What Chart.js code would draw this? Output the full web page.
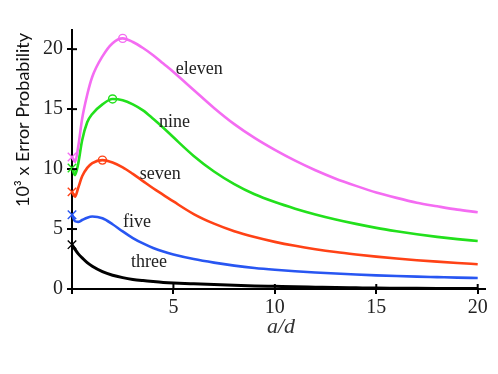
<!DOCTYPE html>
<html>
<head>
<meta charset="utf-8">
<script src="https://cdn.jsdelivr.net/npm/chart.js@4"></script>
<style>
  html, body { margin: 0; padding: 0; background: #fff; }
  canvas { display: block; }
</style>
</head>
<body>
<canvas id="chart" width="498" height="374"></canvas>
<script>
// a/d sample positions shared by every curve
const XS = [0, 0.15, 0.3, 0.5, 0.75, 1, 1.5, 2, 2.5, 3, 3.5, 4, 4.5, 5, 6, 7, 8, 9, 10, 11, 12, 13, 14, 15, 16, 17, 18, 19, 20];

// 10^3 x error probability
const ELEVEN = [11.0, 10.6, 11.8, 14.2, 16.2, 17.7, 19.4, 20.5, 20.9, 20.6, 20.1, 19.5, 18.8, 18.1, 16.6, 15.1, 13.75, 12.6, 11.6, 10.7, 9.9, 9.2, 8.6, 8.05, 7.6, 7.2, 6.9, 6.62, 6.4];
const NINE   = [10.1, 9.5, 10.4, 12.4, 13.9, 14.6, 15.4, 15.85, 15.75, 15.4, 14.9, 14.2, 13.45, 12.65, 11.1, 9.8, 8.75, 7.9, 7.25, 6.7, 6.22, 5.8, 5.43, 5.1, 4.82, 4.57, 4.35, 4.16, 4.0];
const SEVEN  = [8.1, 7.7, 8.4, 9.4, 10.1, 10.5, 10.75, 10.55, 10.15, 9.6, 9.0, 8.4, 7.85, 7.3, 6.25, 5.45, 4.82, 4.33, 3.93, 3.6, 3.32, 3.08, 2.88, 2.7, 2.54, 2.4, 2.28, 2.17, 2.07];
const FIVE   = [6.2, 5.65, 5.6, 5.75, 5.95, 6.05, 5.9, 5.4, 4.8, 4.25, 3.8, 3.42, 3.12, 2.88, 2.5, 2.2, 1.95, 1.75, 1.6, 1.48, 1.38, 1.29, 1.21, 1.14, 1.08, 1.03, 0.99, 0.95, 0.92];
const THREE  = [3.7, 3.3, 2.95, 2.6, 2.2, 1.9, 1.45, 1.15, 0.95, 0.8, 0.7, 0.62, 0.55, 0.5, 0.43, 0.37, 0.31, 0.26, 0.22, 0.18, 0.15, 0.12, 0.1, 0.08, 0.07, 0.06, 0.05, 0.04, 0.04];

const X_TICKS = [0, 5, 10, 15, 20];
const Y_TICKS = [0, 5, 10, 15, 20];

const NAMES = ['eleven', 'nine', 'seven', 'five', 'three'];
const COLORS = ['#f46cf2', '#22e01c', '#ff4216', '#2856f2', '#000000'];
// where each curve's name sits, in data units (a/d, value)
const NAME_X = [6.27, 5.05, 4.35, 3.2, 3.8];
const NAME_Y = [18.3, 13.9, 9.6, 5.6, 2.2];

const SERIES = [ELEVEN, NINE, SEVEN, FIVE, THREE];

function makeDataset(values, i) {
    const peak = values.indexOf(Math.max(...values));
    const withPeak = i < 4; // the three-curve has no maximum marker
    return {
        label: NAMES[i],
        data: XS.map((x, k) => ({ x, y: values[k] })),
        borderColor: COLORS[i],
        borderWidth: i === 4 ? 3 : 2.6,
        cubicInterpolationMode: 'monotone',
        pointStyle: XS.map((_, k) => k === 0 ? 'crossRot' : (withPeak && k === peak ? 'circle' : false)),
        pointRadius: XS.map((_, k) => k === 0 ? 6 : (withPeak && k === peak ? 4 : 0)),
        pointBorderColor: COLORS[i],
        pointBackgroundColor: 'rgba(0,0,0,0)',
        pointBorderWidth: 1.4,
        clip: false,
    };
}

const extras = {
    id: 'extras',
    afterDraw(chart) {
        const { ctx, chartArea, scales } = chart;
        const xs = scales.x, ys = scales.y;
        ctx.save();
        // inner halves of the tick marks (ticks cross the axes)
        ctx.strokeStyle = '#000';
        ctx.lineWidth = 2;
        Y_TICKS.forEach(v => {
            const py = ys.getPixelForValue(v);
            ctx.beginPath();
            ctx.moveTo(chartArea.left, py);
            ctx.lineTo(chartArea.left + 5, py);
            ctx.stroke();
        });
        X_TICKS.forEach(v => {
            if (v === 0) return;
            const px = xs.getPixelForValue(v);
            ctx.beginPath();
            ctx.moveTo(px, chartArea.bottom);
            ctx.lineTo(px, chartArea.bottom - 5);
            ctx.stroke();
        });

        // curve names
        ctx.fillStyle = '#222';
        ctx.font = '18px "Liberation Serif"';
        ctx.textAlign = 'center';
        ctx.textBaseline = 'middle';
        NAMES.forEach((name, i) => {
            ctx.fillText(name, xs.getPixelForValue(NAME_X[i]), ys.getPixelForValue(NAME_Y[i]));
        });

        // x title
        ctx.fillStyle = '#333';
        ctx.font = 'italic 22px "Liberation Serif"';
        ctx.fillText('a/d', xs.getPixelForValue(10.3), chartArea.bottom + 38);

        // y title
        ctx.translate(23, 120);
        ctx.rotate(-Math.PI / 2);
        ctx.fillStyle = '#111';
        ctx.font = '18px Lato';
        ctx.fillText('10³ x Error Probability', 0, 0);
        ctx.restore();
    }
};

new Chart(document.getElementById('chart'), {
    type: 'line',
    data: { datasets: SERIES.map(makeDataset) },
    options: {
        responsive: false,
        animation: false,
        devicePixelRatio: 1,
        layout: { padding: { left: 0, right: 13, top: 30, bottom: 0 } },
        plugins: { legend: { display: false }, tooltip: { enabled: false } },
        scales: {
            x: {
                type: 'linear',
                min: 0,
                max: 20.36,
                afterFit: s => { s.height = 85; },
                afterBuildTicks: s => { s.ticks = X_TICKS.map(value => ({ value })); },
                border: { display: true, color: '#000', width: 2 },
                grid: { drawOnChartArea: false, drawTicks: true, tickLength: 5, color: '#000', lineWidth: 2 },
                ticks: {
                    color: '#222',
                    padding: 2,
                    maxRotation: 0,
                    font: { family: 'Liberation Serif', size: 20 },
                    callback: v => v === 0 ? '' : String(v),
                },
            },
            y: {
                min: 0,
                max: 21.6,
                afterFit: s => { s.width = 72; },
                afterBuildTicks: s => { s.ticks = Y_TICKS.map(value => ({ value })); },
                border: { display: true, color: '#000', width: 2 },
                grid: { drawOnChartArea: false, drawTicks: true, tickLength: 5, color: '#000', lineWidth: 2 },
                ticks: {
                    color: '#222',
                    padding: 4,
                    font: { family: 'Liberation Serif', size: 20 },
                },
            },
        },
    },
    plugins: [extras],
});
</script>
</body>
</html>
